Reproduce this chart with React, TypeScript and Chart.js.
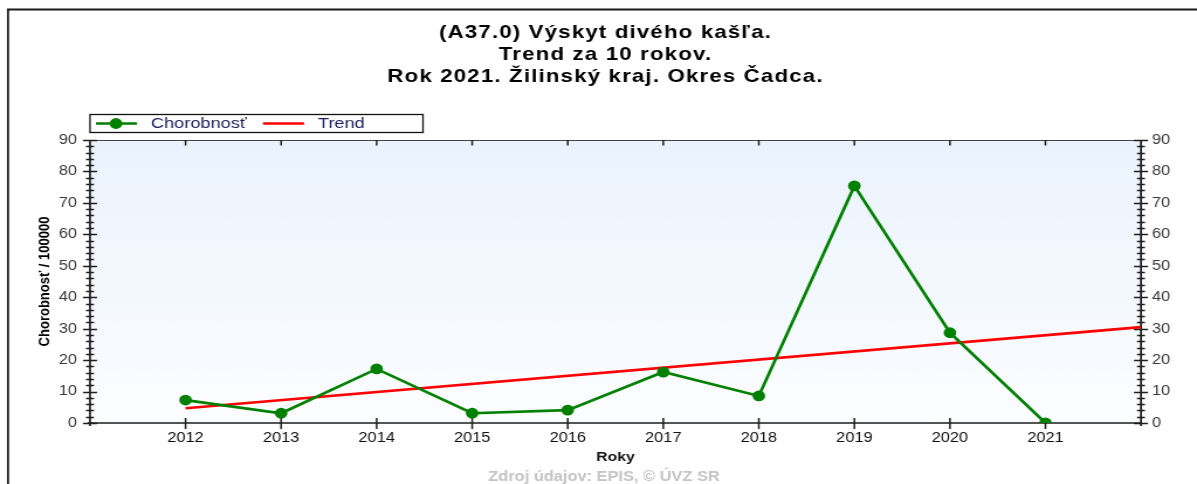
import React, { useEffect, useRef } from 'react';
import { Chart, registerables } from 'chart.js';

Chart.register(...registerables);

// ---- data ----
const years = [2012, 2013, 2014, 2015, 2016, 2017, 2018, 2019, 2020, 2021];
const incidence = [7.3, 3.1, 17.2, 3.1, 4.1, 16.2, 8.6, 75.4, 28.7, 0];
const trendYears = [2012, 2022];
const trendValues = [4.7, 30.5];
const yTickValues = [0, 10, 20, 30, 40, 50, 60, 70, 80, 90];
const xRange = [2011, 2022];
const titleLines = [
  '(A37.0) Výskyt divého kašľa.',
  'Trend za 10 rokov.',
  'Rok 2021. Žilinský kraj. Okres Čadca.',
];
const seriesLabels = ['Chorobnosť', 'Trend'];
const xTitle = 'Roky';
const yTitle = 'Chorobnosť / 100000';
const sourceNote = 'Zdroj údajov: EPIS, © ÚVZ SR';

// ---- geometry / style ----
const OUT_W = 1197;
const OUT_H = 484;
const CANVAS_W = 1023;
const CANVAS_H = 484;
const SX = OUT_W / CANVAS_W;
const GREEN = '#008000';
const RED = '#ff0000';
const FONT = 'Arial, "Liberation Sans", sans-serif';
const PT_R = 5.4;

const decorPlugin = {
  id: 'decor',
  beforeDraw(chart: any) {
    const { ctx, chartArea: a } = chart;
    ctx.save();
    ctx.fillStyle = '#ffffff';
    ctx.fillRect(0, 0, chart.width, chart.height);
    // outer frame (left + top)
    ctx.strokeStyle = '#1a1a1a';
    ctx.lineWidth = 1.8;
    ctx.beginPath();
    ctx.moveTo(8 / SX, CANVAS_H + 2);
    ctx.lineTo(8 / SX, 9.5);
    ctx.lineTo(CANVAS_W + 2, 9.5);
    ctx.stroke();
    // plot background
    const g = ctx.createLinearGradient(0, a.top, 0, a.bottom);
    g.addColorStop(0, '#eaf3fd');
    g.addColorStop(1, '#fcfdff');
    ctx.fillStyle = g;
    ctx.fillRect(a.left, a.top, a.right - a.left, a.bottom - a.top);
    // title
    ctx.fillStyle = '#000';
    ctx.font = `bold 19px ${FONT}`;
    ctx.textAlign = 'center';
    ctx.textBaseline = 'middle';
    (ctx as any).letterSpacing = '1px';
    titleLines.forEach((t, i) => ctx.fillText(t, 605.5 / SX, 32.5 + i * 22.3));
    (ctx as any).letterSpacing = '0px';
    // source note
    ctx.fillStyle = '#c4c4c4';
    ctx.font = `bold 14px ${FONT}`;
    ctx.fillText(sourceNote, 604 / SX, 477);
    ctx.restore();
  },
  beforeDatasetsDraw(chart: any) {
    const { ctx, chartArea: a } = chart;
    const xs = chart.scales.x;
    const ys = chart.scales.y;
    ctx.save();
    ctx.lineCap = 'butt';
    // top frame line
    ctx.strokeStyle = '#444';
    ctx.lineWidth = 1.2;
    ctx.beginPath();
    ctx.moveTo(a.left, a.top + 0.5);
    ctx.lineTo(a.right, a.top + 0.5);
    ctx.stroke();
    // axis lines
    ctx.strokeStyle = '#1e1e1e';
    ctx.lineWidth = 1.7;
    ctx.beginPath();
    ctx.moveTo(a.left, a.top);
    ctx.lineTo(a.left, a.bottom + 3);
    ctx.moveTo(a.right, a.top);
    ctx.lineTo(a.right, a.bottom + 3);
    ctx.moveTo(a.left - 2, a.bottom);
    ctx.lineTo(a.right, a.bottom);
    ctx.stroke();
    // y ticks (major + minor) on both sides
    ctx.lineWidth = 1.3;
    ctx.beginPath();
    const yMin = yTickValues[0];
    const yMax = yTickValues[yTickValues.length - 1];
    for (let v = yMin; v <= yMax; v += 2) {
      const py = Math.round(ys.getPixelForValue(v)) + 0.5;
      const major = yTickValues.includes(v);
      const h = major ? 6 : 3.4;
      ctx.moveTo(a.left - h, py);
      ctx.lineTo(a.left + h, py);
      ctx.moveTo(a.right - h, py);
      ctx.lineTo(a.right + h, py);
    }
    ctx.stroke();
    // x ticks bottom and top
    ctx.lineWidth = 1.5;
    ctx.beginPath();
    years.forEach((yr) => {
      const px = xs.getPixelForValue(yr);
      ctx.moveTo(px, a.bottom - 5);
      ctx.lineTo(px, a.bottom + 6);
      ctx.moveTo(px, a.top);
      ctx.lineTo(px, a.top + 5.5);
    });
    ctx.stroke();
    ctx.restore();
  },
  afterDraw(chart: any) {
    const { ctx } = chart;
    ctx.save();
    // legend box
    const bx0 = 90 / SX, bx1 = 423 / SX, by0 = 114.5, by1 = 132.5;
    ctx.fillStyle = '#fff';
    ctx.fillRect(bx0, by0, bx1 - bx0, by1 - by0);
    ctx.strokeStyle = '#111';
    ctx.lineWidth = 1.3;
    ctx.strokeRect(bx0, by0, bx1 - bx0, by1 - by0);
    const cy = 123.5;
    // series 1
    ctx.strokeStyle = GREEN;
    ctx.lineWidth = 2.7;
    ctx.beginPath();
    ctx.moveTo(96 / SX, cy);
    ctx.lineTo(137 / SX, cy);
    ctx.stroke();
    ctx.fillStyle = GREEN;
    ctx.beginPath();
    ctx.arc(116 / SX, cy, PT_R, 0, Math.PI * 2);
    ctx.fill();
    ctx.fillStyle = '#1e1e5c';
    ctx.font = `15.5px ${FONT}`;
    ctx.textAlign = 'left';
    ctx.textBaseline = 'middle';
    ctx.fillText(seriesLabels[0], 151 / SX, cy);
    // series 2
    ctx.strokeStyle = RED;
    ctx.lineWidth = 2.6;
    ctx.beginPath();
    ctx.moveTo(263 / SX, cy);
    ctx.lineTo(304 / SX, cy);
    ctx.stroke();
    ctx.fillText(seriesLabels[1], 318 / SX, cy);
    ctx.restore();
  },
};

export default function App() {
  const ref = useRef<HTMLCanvasElement | null>(null);

  useEffect(() => {
    if (!ref.current) return;
    const chart = new Chart(ref.current, {
      type: 'line',
      data: {
        datasets: [
          {
            label: seriesLabels[0],
            data: years.map((x, i) => ({ x, y: incidence[i] })),
            borderColor: GREEN,
            backgroundColor: GREEN,
            borderWidth: 2.7,
            pointRadius: PT_R,
            pointBorderWidth: 0,
            pointBackgroundColor: GREEN,
            tension: 0,
            yAxisID: 'y',
          },
          {
            label: seriesLabels[1],
            data: trendYears.map((x, i) => ({ x, y: trendValues[i] })),
            borderColor: RED,
            backgroundColor: RED,
            borderWidth: 2.6,
            pointRadius: 0,
            tension: 0,
            yAxisID: 'y',
          },
        ],
      },
      plugins: [decorPlugin],
      options: {
        animation: false,
        responsive: false,
        devicePixelRatio: 1,
        events: [],
        layout: { padding: { top: 140, left: 0, right: 0, bottom: 0 } },
        plugins: {
          legend: { display: false },
          title: { display: false },
          tooltip: { enabled: false },
        },
        scales: {
          x: {
            type: 'linear',
            min: xRange[0],
            max: xRange[1],
            grid: { display: false, drawTicks: false },
            border: { display: false },
            afterFit: (s: any) => { s.height = CANVAS_H - 423; },
            afterBuildTicks: (s: any) => {
              s.ticks = years.map((v) => ({ value: v }));
            },
            ticks: {
              autoSkip: false,
              maxRotation: 0,
              padding: 6.6,
              color: '#111',
              font: { family: FONT, size: 14 },
              callback: (v: any) => String(v),
            },
            title: {
              display: true,
              text: xTitle,
              color: '#111',
              font: { family: FONT, size: 13.5, weight: 'bold' },
              padding: { top: 0, bottom: 19 },
            },
          },
          y: {
            type: 'linear',
            position: 'left',
            min: yTickValues[0],
            max: yTickValues[yTickValues.length - 1],
            grid: { display: false, drawTicks: false },
            border: { display: false },
            afterFit: (s: any) => { s.width = 90 / SX; },
            afterBuildTicks: (s: any) => {
              s.ticks = yTickValues.map((v) => ({ value: v }));
            },
            ticks: {
              padding: 11.1,
              color: '#3a3a3a',
              font: { family: FONT, size: 14 },
            },
            title: {
              display: true,
              text: yTitle,
              color: '#000',
              font: { family: FONT, size: 13, weight: 'bold' },
              padding: { top: 30.5, bottom: 0 },
            },
          },
          y2: {
            type: 'linear',
            position: 'right',
            min: yTickValues[0],
            max: yTickValues[yTickValues.length - 1],
            grid: { display: false, drawTicks: false },
            border: { display: false },
            afterFit: (s: any) => { s.width = CANVAS_W - 1141 / SX; },
            afterBuildTicks: (s: any) => {
              s.ticks = yTickValues.map((v) => ({ value: v }));
            },
            ticks: {
              padding: 9.4,
              color: '#3a3a3a',
              font: { family: FONT, size: 14 },
            },
          },
        },
      } as any,
    });
    return () => chart.destroy();
  }, []);

  return (
    <div style={{ position: 'absolute', left: 0, top: 0, width: OUT_W, height: OUT_H, background: '#fff' }}>
      <canvas
        ref={ref}
        width={CANVAS_W}
        height={CANVAS_H}
        style={{ width: `${OUT_W}px`, height: `${OUT_H}px`, display: 'block' }}
      />
    </div>
  );
}
